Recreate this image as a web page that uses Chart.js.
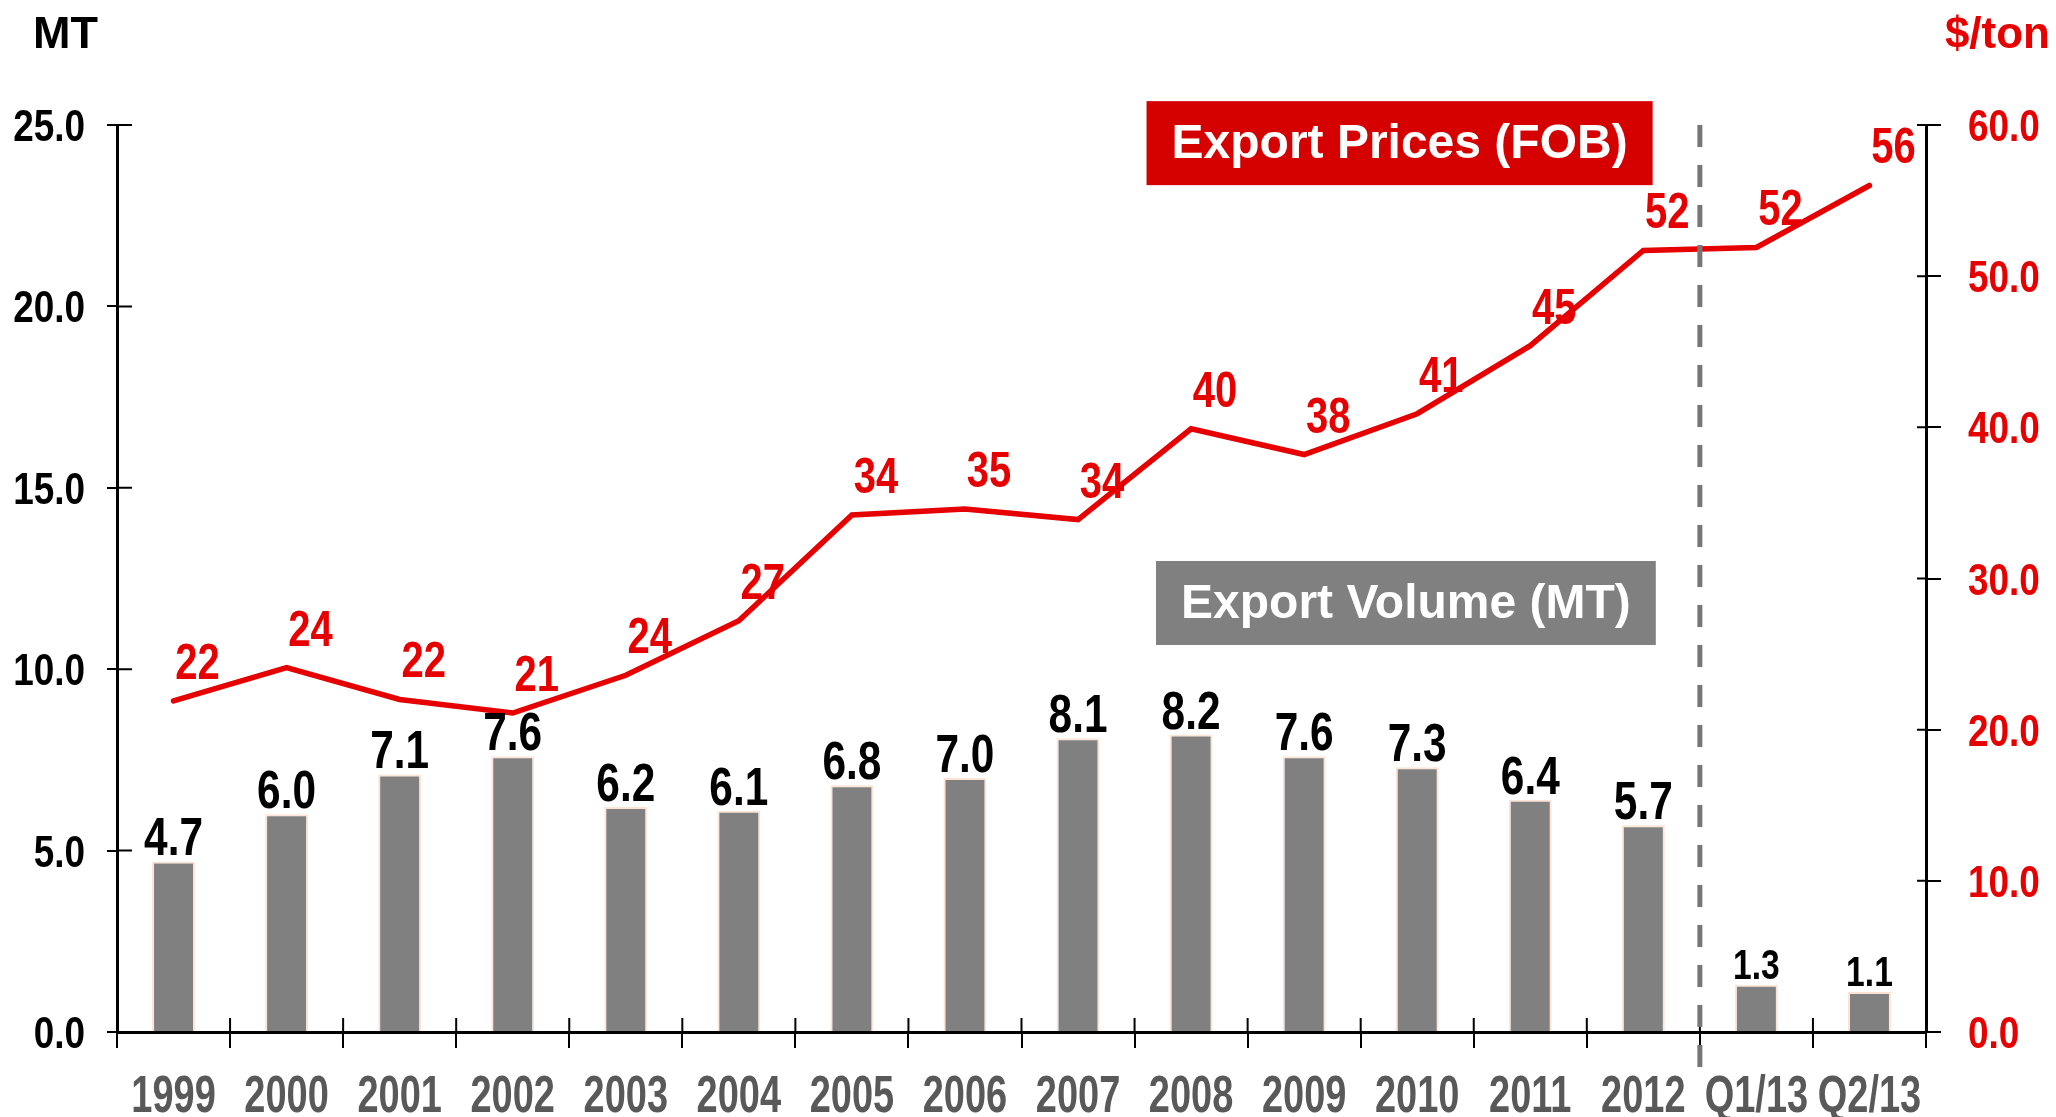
<!DOCTYPE html>
<html lang="en">
<head>
    <meta charset="utf-8" />
    <title>Export Volume & Export Prices</title>
    <script src="https://cdn.jsdelivr.net/npm/chart.js"></script>
    <style>
      html, body { margin: 0; padding: 0; background: #fff; }
      canvas { display: block; }
    </style>
</head>
<body>
    <canvas id="exportChart" width="2056" height="1117"></canvas>

    <script>
        // --- données ---
        const categories = ["1999", "2000", "2001", "2002", "2003", "2004", "2005", "2006",
                            "2007", "2008", "2009", "2010", "2011", "2012", "Q1/13", "Q2/13"];
        const volumeMT = [4.7, 6.0, 7.1, 7.6, 6.2, 6.1, 6.8, 7.0, 8.1, 8.2, 7.6, 7.3, 6.4, 5.7, 1.3, 1.1];
        const priceFOB = [21.9, 24.1, 22.0, 21.1, 23.6, 27.2, 34.2, 34.6, 33.9, 39.9, 38.2, 40.9, 45.4, 51.7, 51.9, 56.0];
        const priceLabels = ["22", "24", "22", "21", "24", "27", "34", "35", "34", "40", "38", "41", "45", "52", "52", "56"];
        const volumeAxis = { min: 0, max: 25, step: 5 };
        const priceAxis = { min: 0, max: 60, step: 10 };
        const splitAfter = "2012"; // ligne pointillée entre années et trimestres

        const FONT = "'Liberation Sans', Arial, sans-serif";
        const RED = "#e60000";

        // texte "narrow" : police normale compressée horizontalement
        function narrowText(ctx, text, x, y, size, color, align, sx) {
            ctx.save();
            ctx.font = "bold " + size + "px " + FONT;
            ctx.fillStyle = color;
            ctx.textAlign = align;
            ctx.textBaseline = "alphabetic";
            ctx.translate(x, y);
            ctx.scale(sx || 0.82, 1);
            ctx.fillText(text, 0, 0);
            ctx.restore();
        }

        // --- plugin : libellés des axes, ticks croisés, pointillés, étiquettes, encadrés ---
        const decorPlugin = {
            id: "decor",
            afterDatasetsDraw(chart) {
                const ctx = chart.ctx;
                const area = chart.chartArea;
                const xs = chart.scales.x;
                const yl = chart.scales.y;
                const yr = chart.scales.y1;

                ctx.save();
                // partie intérieure des ticks
                ctx.strokeStyle = "#000";
                ctx.lineWidth = 2;
                ctx.beginPath();
                const n = categories.length;
                for (let i = 0; i <= n; i++) {
                    const x = xs.left + i * (xs.width / n);
                    ctx.moveTo(x, area.bottom);
                    ctx.lineTo(x, area.bottom - 14);
                }
                yl.ticks.forEach(t => {
                    const y = yl.getPixelForValue(t.value);
                    ctx.moveTo(area.left, y);
                    ctx.lineTo(area.left + 15, y);
                });
                yr.ticks.forEach(t => {
                    const y = yr.getPixelForValue(t.value);
                    ctx.moveTo(area.right, y);
                    ctx.lineTo(area.right - 9, y);
                });
                ctx.stroke();

                // libellés des axes (police condensée)
                xs.ticks.forEach((t, i) => {
                    narrowText(ctx, categories[t.value], xs.getPixelForTick(i), area.bottom + 80, 52, "#595959", "center", 0.73);
                });
                yl.ticks.forEach(t => {
                    narrowText(ctx, t.value.toFixed(1), area.left - 32, yl.getPixelForValue(t.value) + 16, 45, "#000", "right");
                });
                yr.ticks.forEach(t => {
                    narrowText(ctx, t.value.toFixed(1), area.right + 42, yr.getPixelForValue(t.value) + 16, 45, RED, "left");
                });

                // ligne verticale pointillée
                const k = categories.indexOf(splitAfter);
                const xSplit = (xs.getPixelForValue(k) + xs.getPixelForValue(k + 1)) / 2;
                ctx.strokeStyle = "#777777";
                ctx.lineWidth = 5;
                ctx.setLineDash([22, 18]);
                ctx.beginPath();
                ctx.moveTo(xSplit, area.top);
                ctx.lineTo(xSplit, area.bottom + 36);
                ctx.stroke();
                ctx.setLineDash([]);

                // valeurs des barres
                const barMeta = chart.getDatasetMeta(1);
                barMeta.data.forEach((bar, i) => {
                    const small = categories[i].startsWith("Q");
                    narrowText(ctx, volumeMT[i].toFixed(1), bar.x, bar.y - 6, small ? 42 : 53, "#000", "center", 0.8);
                });

                // valeurs de la courbe
                const lineMeta = chart.getDatasetMeta(0);
                lineMeta.data.forEach((pt, i) => {
                    narrowText(ctx, priceLabels[i], pt.x + 24, pt.y - 22, 50, RED, "center", 0.8);
                });

                // encadrés légende
                function box(text, bg, cx, cy) {
                    ctx.font = "bold 48px " + FONT;
                    const w = ctx.measureText(text).width + 50;
                    const h = 84;
                    ctx.fillStyle = bg;
                    ctx.fillRect(cx - w / 2, cy - h / 2, w, h);
                    ctx.fillStyle = "#fff";
                    ctx.textAlign = "center";
                    ctx.textBaseline = "middle";
                    ctx.fillText(text, cx, cy + 2);
                }
                box("Export Prices (FOB)", "#d50000",
                    area.left + 0.709 * area.width, area.top + 0.02 * area.height);
                box("Export Volume (MT)", "#808080",
                    area.left + 0.7125 * area.width, area.top + 0.527 * area.height);

                // titres des axes
                ctx.textBaseline = "alphabetic";
                ctx.font = "bold 45px " + FONT;
                ctx.fillStyle = "#000";
                ctx.textAlign = "left";
                ctx.fillText("MT", 33, 48);
                ctx.fillStyle = RED;
                ctx.textAlign = "right";
                ctx.font = "bold 44px " + FONT;
                ctx.fillText("$/ton", 2050, 48);
                ctx.restore();
            }
        };

        const ctx = document.getElementById("exportChart").getContext("2d");

        let chart = new Chart(ctx, {
            type: "bar",
            data: {
                labels: categories,
                datasets: [
                    {
                        type: "line",
                        label: "Export Prices (FOB)",
                        data: priceFOB,
                        yAxisID: "y1",
                        borderColor: RED,
                        borderWidth: 5.5,
                        borderCapStyle: "round",
                        pointRadius: 0,
                        tension: 0,
                        fill: false,
                        order: 0
                    },
                    {
                        type: "bar",
                        label: "Export Volume (MT)",
                        data: volumeMT,
                        yAxisID: "y",
                        backgroundColor: "#808080",
                        borderColor: "#fce4d6",
                        borderWidth: 2,
                        categoryPercentage: 1,
                        barPercentage: 0.38,
                        order: 1
                    }
                ]
            },
            options: {
                responsive: false,
                animation: false,
                layout: { padding: { top: 125, left: 0, right: 0, bottom: 0 } },
                plugins: {
                    legend: { display: false },
                    tooltip: { enabled: false }
                },
                scales: {
                    x: {
                        afterFit: s => { s.height = 85; },
                        grid: {
                            offset: true,
                            drawOnChartArea: false,
                            color: "#000",
                            lineWidth: 2,
                            tickLength: 16
                        },
                        border: { color: "#000", width: 3 },
                        ticks: { display: false, autoSkip: false, maxRotation: 0 }
                    },
                    y: {
                        position: "left",
                        min: volumeAxis.min,
                        max: volumeAxis.max,
                        afterFit: s => { s.width = 117; },
                        grid: {
                            drawOnChartArea: false,
                            color: "#000",
                            lineWidth: 2,
                            tickLength: 10
                        },
                        border: { color: "#000", width: 3 },
                        ticks: { display: false, stepSize: volumeAxis.step }
                    },
                    y1: {
                        position: "right",
                        min: priceAxis.min,
                        max: priceAxis.max,
                        afterFit: s => { s.width = 130; },
                        grid: {
                            drawOnChartArea: false,
                            color: "#000",
                            lineWidth: 2,
                            tickLength: 15
                        },
                        border: { color: "#000", width: 3 },
                        ticks: { display: false, stepSize: priceAxis.step }
                    }
                }
            },
            plugins: [decorPlugin]
        });
    </script>
</body>
</html>
